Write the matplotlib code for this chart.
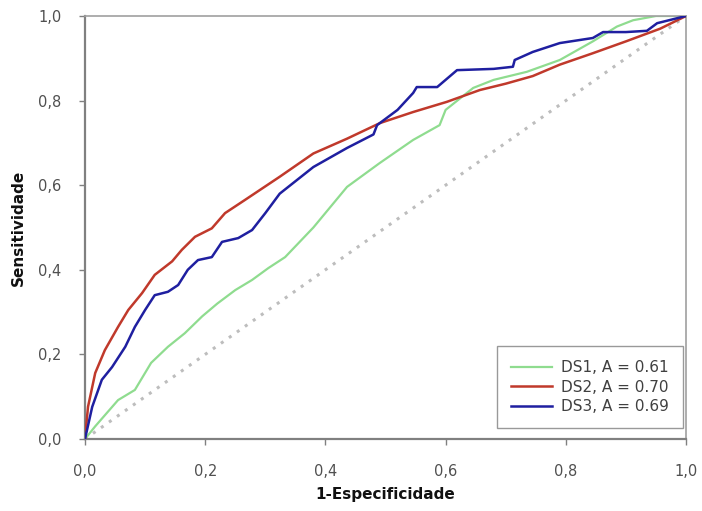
import matplotlib
matplotlib.use("Agg")
import matplotlib.pyplot as plt

# DS1 (green)
ds1_x = [0.0, 0.017, 0.055, 0.083, 0.11, 0.138, 0.166, 0.195, 0.22, 0.25, 0.278, 0.305, 0.333,
         0.38, 0.436, 0.49, 0.546, 0.59, 0.6, 0.646, 0.68, 0.735, 0.79, 0.845, 0.885, 0.912, 0.95, 1.0]
ds1_y = [0.0, 0.03, 0.092, 0.116, 0.18, 0.218, 0.25, 0.29, 0.32, 0.352, 0.376, 0.404, 0.43,
         0.50, 0.596, 0.652, 0.707, 0.742, 0.778, 0.83, 0.849, 0.868, 0.896, 0.94, 0.975, 0.99, 1.0, 1.0]

# DS2 (red)
ds2_x = [0.0, 0.005, 0.017, 0.033, 0.055, 0.072, 0.095, 0.116, 0.145, 0.161, 0.183, 0.211, 0.233,
         0.266, 0.324, 0.38, 0.436, 0.491, 0.546, 0.602, 0.657, 0.70, 0.745, 0.79, 0.845, 0.9, 0.957, 1.0]
ds2_y = [0.0, 0.076, 0.156, 0.21, 0.265, 0.305, 0.345, 0.388, 0.42, 0.447, 0.478, 0.498, 0.534,
         0.565, 0.62, 0.675, 0.71, 0.747, 0.773, 0.797, 0.825, 0.84, 0.858, 0.885, 0.912, 0.94, 0.97, 1.0]

# DS3 (blue)
ds3_x = [0.0, 0.012, 0.028, 0.045, 0.067, 0.083, 0.1, 0.116, 0.138, 0.155, 0.171, 0.188, 0.211,
         0.228, 0.255, 0.278, 0.3, 0.324, 0.38, 0.436, 0.48, 0.486, 0.52, 0.546, 0.552, 0.586,
         0.619, 0.68, 0.712, 0.715, 0.745, 0.79, 0.845, 0.862, 0.9, 0.935, 0.952, 1.0]
ds3_y = [0.0, 0.076, 0.14, 0.17, 0.218, 0.265, 0.305, 0.34, 0.348, 0.364, 0.40, 0.423, 0.43,
         0.466, 0.475, 0.494, 0.534, 0.58, 0.643, 0.688, 0.72, 0.742, 0.778, 0.818, 0.832, 0.832,
         0.872, 0.875, 0.88, 0.896, 0.915, 0.936, 0.948, 0.962, 0.962, 0.965, 0.983, 1.0]

labels = ["DS1, A = 0.61", "DS2, A = 0.70", "DS3, A = 0.69"]
ticks = [0.0, 0.2, 0.4, 0.6, 0.8, 1.0]
tick_labels = ["0,0", "0,2", "0,4", "0,6", "0,8", "1,0"]

fig = plt.figure(figsize=(7.02, 5.11), dpi=100)
ax = fig.add_axes([85/702, (511-439)/511, (686-85)/702, (439-16)/511])

ax.plot([0, 1], [0, 1], linestyle=(0, (1, 2.2)), color="#bdbdbd", linewidth=2.2, zorder=1)
ax.plot(ds1_x, ds1_y, color="#8fdc8f", linewidth=1.6, label=labels[0], zorder=2)
ax.plot(ds2_x, ds2_y, color="#c0392b", linewidth=1.8, label=labels[1], zorder=3)
ax.plot(ds3_x, ds3_y, color="#1f1fa0", linewidth=1.8, label=labels[2], zorder=4)

ax.set_xlim(0, 1)
ax.set_ylim(0, 1)
ax.set_xticks(ticks)
ax.set_xticklabels(tick_labels)
ax.set_yticks(ticks)
ax.set_yticklabels(tick_labels)
ax.tick_params(direction="out", length=4, width=1, colors="#808080", labelcolor="#505050",
               labelsize=10.5)
ax.tick_params(axis="x", pad=14)
ax.tick_params(axis="y", pad=13)
for s in ["left", "bottom"]:
    ax.spines[s].set_color("#808080")
    ax.spines[s].set_linewidth(1.6)
for s in ["top", "right"]:
    ax.spines[s].set_color("#a0a0a0")
    ax.spines[s].set_linewidth(1.2)

ax.set_xlabel("1-Especificidade", fontsize=11, fontweight="bold", color="#111111", labelpad=6)
ax.set_ylabel("Sensitividade", fontsize=11, fontweight="bold", color="#111111", labelpad=9)

leg = ax.legend(loc="lower right", bbox_to_anchor=(0.995, 0.026), borderaxespad=0, frameon=True,
                fancybox=False, fontsize=11, handlelength=2.7, borderpad=0.9, labelspacing=0.3,
                handletextpad=0.6)
leg.get_frame().set_edgecolor("#808080")
leg.get_frame().set_linewidth(1.0)
for t in leg.get_texts():
    t.set_color("#404040")

fig.savefig("out.png", dpi=100)
